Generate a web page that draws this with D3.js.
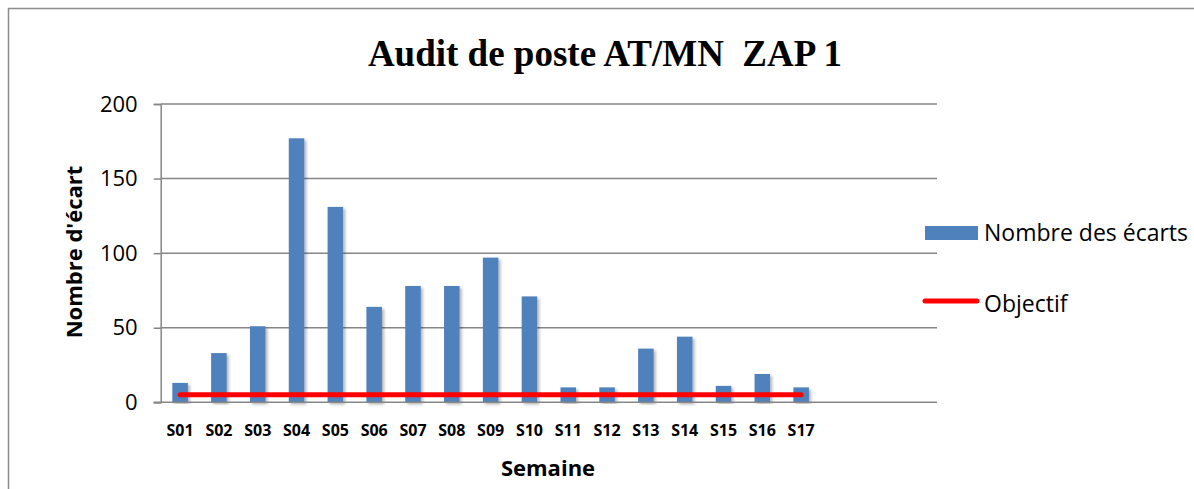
<!DOCTYPE html>
<html>
<head>
<meta charset="utf-8">
<script src="https://cdn.jsdelivr.net/npm/d3@7"></script>
<style>
  body { margin: 0; background: #fff; overflow: hidden; }
  svg { display: block; }
  .tick text { font-family: "Open Sans", sans-serif; }
</style>
</head>
<body>
<div id="chart"></div>
<script>
// données
const semaines = ["S01","S02","S03","S04","S05","S06","S07","S08","S09","S10","S11","S12","S13","S14","S15","S16","S17"];
const nbEcarts = [13, 33, 51, 177, 131, 64, 78, 78, 97, 71, 10, 10, 36, 44, 11, 19, 10];
const objectif = [5, 5, 5, 5, 5, 5, 5, 5, 5, 5, 5, 5, 5, 5, 5, 5, 5];
const yTicks = [0, 50, 100, 150, 200];
const nbSlots = 20; // l'axe garde 3 emplacements vides après S17

const W = 1194, H = 489;
const plot = { left: 160.7, right: 937, top: 104, bottom: 402.3 };

const svg = d3.select("#chart").append("svg")
    .attr("width", W)
    .attr("height", H);

// ombre légère sous les barres
const defs = svg.append("defs");
defs.append("filter").attr("id", "ombre")
    .attr("x", "-30%").attr("y", "-5%").attr("width", "160%").attr("height", "110%")
  .append("feDropShadow")
    .attr("dx", 2).attr("dy", 2).attr("stdDeviation", 1.5)
    .attr("flood-color", "#000").attr("flood-opacity", 0.3);

// cadre (seuls les bords haut et gauche sont visibles)
svg.append("path")
    .attr("d", `M8.5,${H} V8.5 H${W}`)
    .attr("fill", "none").attr("stroke", "#8c8c8c").attr("stroke-width", 1.5);

const x = d3.scaleBand()
    .domain(d3.range(nbSlots))
    .range([plot.left, plot.right])
    .paddingInner(0.6)
    .paddingOuter(0.3);

const y = d3.scaleLinear()
    .domain([0, 200])
    .range([plot.bottom, plot.top]);

// grille horizontale + axe Y
const yAxis = svg.append("g")
    .attr("transform", `translate(${plot.left},0)`)
    .call(d3.axisLeft(y).tickValues(yTicks).tickSize(7).tickPadding(16));
yAxis.select(".domain").attr("stroke", "#868686").attr("stroke-width", 1.5);
yAxis.selectAll(".tick line").attr("stroke", "#868686").attr("stroke-width", 1.5);
yAxis.selectAll(".tick text")
    .attr("font-size", 22)
    .attr("fill", "#000");

svg.append("g")
    .selectAll("line")
    .data(yTicks.filter(d => d > 0))
    .join("line")
    .attr("x1", plot.left).attr("x2", plot.right)
    .attr("y1", d => y(d)).attr("y2", d => y(d))
    .attr("stroke", "#868686").attr("stroke-width", 1.5);

// barres
svg.append("g")
    .selectAll("rect")
    .data(nbEcarts)
    .join("rect")
    .attr("x", (d, i) => x(i))
    .attr("y", d => y(d))
    .attr("width", x.bandwidth())
    .attr("height", d => y(0) - y(d))
    .attr("fill", "#4f81bd")
    .attr("filter", "url(#ombre)");

// axe X
const xAxis = svg.append("g")
    .attr("transform", `translate(0,${plot.bottom})`)
    .call(d3.axisBottom(x).tickSize(0).tickPadding(22).tickFormat(i => semaines[i] || ""));
xAxis.select(".domain").remove();
xAxis.selectAll(".tick text")
    .attr("font-size", 16)
    .attr("font-weight", "bold")
    .attr("fill", "#000");
svg.append("line")
    .attr("x1", plot.left - 7).attr("x2", plot.right)
    .attr("y1", plot.bottom).attr("y2", plot.bottom)
    .attr("stroke", "#868686").attr("stroke-width", 1.5);

// ligne objectif
const ligne = d3.line()
    .x((d, i) => x(i) + x.bandwidth() / 2)
    .y(d => y(d));
svg.append("path")
    .datum(objectif)
    .attr("d", ligne)
    .attr("fill", "none")
    .attr("stroke", "#ff0000")
    .attr("stroke-width", 5)
    .attr("stroke-linecap", "round");

// titres
svg.append("text")
    .attr("x", 605).attr("y", 66)
    .attr("text-anchor", "middle")
    .attr("font-family", "'Liberation Serif', 'Times New Roman', serif")
    .attr("font-weight", "bold")
    .attr("font-size", 37)
    .attr("xml:space", "preserve")
    .text("Audit de poste AT/MN  ZAP 1");

svg.append("text")
    .attr("transform", "translate(82,252) rotate(-90)")
    .attr("text-anchor", "middle")
    .attr("font-family", "'Open Sans', sans-serif")
    .attr("font-weight", "bold")
    .attr("font-size", 22)
    .text("Nombre d'écart");

svg.append("text")
    .attr("x", 548).attr("y", 476)
    .attr("text-anchor", "middle")
    .attr("font-family", "'Open Sans', sans-serif")
    .attr("font-weight", "bold")
    .attr("font-size", 22)
    .text("Semaine");

// légende
const leg = svg.append("g").attr("font-family", "'Open Sans', sans-serif").attr("font-size", 23);
leg.append("rect")
    .attr("x", 925).attr("y", 226).attr("width", 53).attr("height", 14)
    .attr("fill", "#4f81bd");
leg.append("text").attr("x", 984).attr("y", 241).text("Nombre des écarts");
leg.append("line")
    .attr("x1", 925).attr("x2", 977).attr("y1", 301).attr("y2", 301)
    .attr("stroke", "#ff0000").attr("stroke-width", 5).attr("stroke-linecap", "round");
leg.append("text").attr("x", 984).attr("y", 312).text("Objectif");
</script>
</body>
</html>
